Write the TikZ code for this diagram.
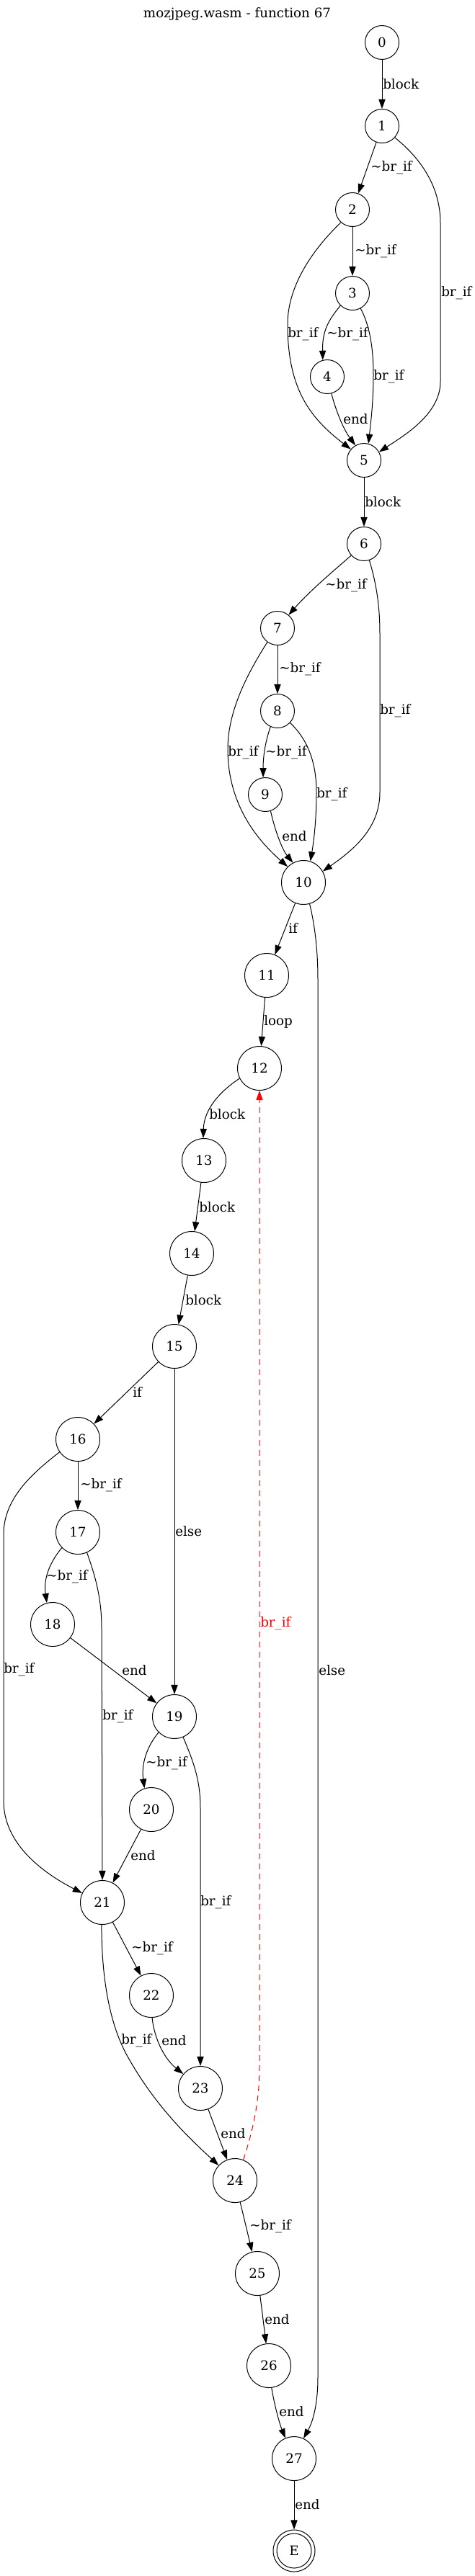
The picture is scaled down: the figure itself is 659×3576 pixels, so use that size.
\documentclass[tikz,border=0pt]{standalone}
\usepackage{fontspec}
\setmainfont{DejaVu Serif}
\usetikzlibrary{arrows.meta}
\newcommand\gvfont{\fontsize{13.7}{16}\selectfont}
\begin{document}
\begin{tikzpicture}[x=0.75pt,y=-0.75pt,
  nd/.style={circle,draw,line width=0.75pt,inner sep=0pt,minimum size=35.25pt,font=\gvfont},
  ndd/.style={nd,minimum size=45.75pt},
  ed/.style={line width=0.75pt,-{Triangle[length=9.8pt,width=6.9pt]}},
  backed/.style={ed,red,dash pattern=on 6pt off 4.5pt},
  lbl/.style={anchor=west,inner sep=0pt,font=\gvfont},
]
\useasboundingbox (0,0) rectangle (659,3576);
\node[font=\gvfont] (title) at (329,20) {mozjpeg.wasm - function 67};
% nodes
\node[nd] (n0) at (530,59) {0};
\node[nd] (n1) at (530,175) {1};
\node[nd] (n2) at (489,291) {2};
\node[nd] (n3) at (489,407) {3};
\node[nd] (n4) at (454,523) {4};
\node[nd] (n5) at (505,639) {5};
\node[nd] (n6) at (505,755) {6};
\node[nd] (n7) at (385,872) {7};
\node[nd] (n8) at (385,987) {8};
\node[nd] (n9) at (368,1103) {9};
\node[ndd] (n10) at (421,1225) {10};
\node[ndd] (n11) at (370,1354) {11};
\node[ndd] (n12) at (360,1483) {12};
\node[ndd] (n13) at (283,1611) {13};
\node[ndd] (n14) at (266,1740) {14};
\node[ndd] (n15) at (242,1869) {15};
\node[ndd] (n16) at (108,1998) {16};
\node[ndd] (n17) at (108,2127) {17};
\node[ndd] (n18) at (73,2255) {18};
\node[ndd] (n19) at (242,2383) {19};
\node[ndd] (n20) at (210,2512) {20};
\node[ndd] (n21) at (142,2641) {21};
\node[ndd] (n22) at (210,2770) {22};
\node[ndd] (n23) at (278,2899) {23};
\node[ndd] (n24) at (326,3027) {24};
\node[ndd] (n25) at (357,3156) {25};
\node[ndd] (n26) at (373,3284) {26};
\node[ndd] (n27) at (408,3413) {27};
\node[nd,minimum size=43.5pt] (E) at (408,3541) {E};
\draw[line width=0.75pt] (E.center) circle[radius=18pt];
% edges
\draw[ed] (n0) -- (n1);
\node[lbl] (l0) at (531,117) {block};
\draw[ed] (n1) -- (n2);
\node[lbl] (l1) at (514,233) {\textasciitilde br\_if};
\draw[ed] (n1.-42) .. controls (590,225) and (611,265) .. (611,310) -- (611,530) .. controls (611,575) and (560,605) .. (n5.29);
\node[lbl] (l2) at (612,407) {br\_if};
\draw[ed] (n2) -- (n3);
\node[lbl] (l3) at (492,349) {\textasciitilde br\_if};
\draw[ed] (n2.-132) .. controls (430,350) and (399,400) .. (399,450) .. controls (399,540) and (430,580) .. (n5.140);
\node[lbl] (l4) at (399,464) {br\_if};
\draw[ed] (n3.-134) .. controls (455,445) and (447,460) .. (n4.105);
\node[lbl] (l5) at (453,464) {\textasciitilde br\_if};
\draw[ed] (n3.-62) .. controls (512,450) and (518,480) .. (518,520) .. controls (518,560) and (514,590) .. (n5.75);
\node[lbl] (l6) at (518,523) {br\_if};
\draw[ed] (n4.-76) .. controls (466,570) and (476,595) .. (n5.120);
\node[lbl] (l7) at (476,582) {end};
\draw[ed] (n5) -- (n6);
\node[lbl] (l8) at (506,697) {block};
\draw[ed] (n6.-138) .. controls (460,795) and (430,820) .. (n7.50);
\node[lbl] (l9) at (451,813) {\textasciitilde br\_if};
\draw[ed] (n6.-72) .. controls (522,810) and (527,840) .. (527,880) -- (527,1100) .. controls (527,1150) and (490,1180) .. (n10.30);
\node[lbl] (l10) at (527,987) {br\_if};
\draw[ed] (n7) -- (n8);
\node[lbl] (l11) at (387,929) {\textasciitilde br\_if};
\draw[ed] (n7.-126) .. controls (340,940) and (316,990) .. (316,1040) .. controls (316,1110) and (350,1160) .. (n10.135);
\node[lbl] (l12) at (316,1045) {br\_if};
\draw[ed] (n8.-114) .. controls (368,1030) and (365,1050) .. (n9.97);
\node[lbl] (l13) at (368,1045) {\textasciitilde br\_if};
\draw[ed] (n8.-43) .. controls (425,1025) and (439,1055) .. (439,1100) .. controls (439,1140) and (435,1170) .. (n10.72);
\node[lbl] (l14) at (439,1103) {br\_if};
\draw[ed] (n9.-72) .. controls (382,1155) and (392,1180) .. (n10.118);
\node[lbl] (l15) at (391,1161) {end};
\draw[ed] (n10) -- (n11);
\node[lbl] (l16) at (400,1289) {if};
\draw[ed] (n10.-74) .. controls (437,1285) and (441,1320) .. (441,1360) -- (441,3300) .. controls (441,3335) and (435,3360) .. (n27.65);
\node[lbl] (l17) at (442,2319) {else};
\draw[ed] (n11) -- (n12);
\node[lbl] (l18) at (366,1418) {loop};
\draw[ed] (n12.-153) .. controls (305,1515) and (283,1540) .. (n13.92);
\node[lbl] (l19) at (290,1547) {block};
\draw[ed] (n13) -- (n14);
\node[lbl] (l20) at (276,1676) {block};
\draw[ed] (n14) -- (n15);
\node[lbl] (l21) at (257,1805) {block};
\draw[ed] (n15) -- (n16);
\node[lbl] (l22) at (184,1933) {if};
\draw[ed] (n15) -- (n19);
\node[lbl] (l23) at (243,2126) {else};
\draw[ed] (n16) -- (n17);
\node[lbl] (l24) at (111,2062) {\textasciitilde br\_if};
\draw[ed] (n16.-145) .. controls (45,2045) and (5,2080) .. (5,2130) -- (5,2500) .. controls (5,2560) and (60,2600) .. (n21.155);
\node[lbl] (l25) at (5,2318) {br\_if};
\draw[ed] (n17.-136) .. controls (70,2168) and (60,2190) .. (n18.105);
\node[lbl] (l26) at (64,2189) {\textasciitilde br\_if};
\draw[ed] (n17.-66) .. controls (133,2190) and (141,2220) .. (141,2260) -- (n21.north);
\node[lbl] (l27) at (142,2383) {br\_if};
\draw[ed] (n18) -- (n19);
\node[lbl] (l28) at (169,2319) {end};
\draw[ed] (n19.-135) .. controls (203,2425) and (196,2450) .. (n20.108);
\node[lbl] (l29) at (202,2448) {\textasciitilde br\_if};
\draw[ed] (n19.-67) .. controls (268,2445) and (278,2470) .. (278,2510) -- (n23.north);
\node[lbl] (l30) at (278,2641) {br\_if};
\draw[ed] (n20) -- (n21);
\node[lbl] (l31) at (181,2576) {end};
\draw[ed] (n21) -- (n22);
\node[lbl] (l32) at (182,2705) {\textasciitilde br\_if};
\draw[ed] (n21.-92) .. controls (141,2740) and (150,2810) .. (180,2860) .. controls (220,2930) and (270,2975) .. (n24.137);
\node[lbl] (l33) at (168,2833) {br\_if};
\draw[ed] (n22.-88) .. controls (214,2830) and (228,2858) .. (n23.140);
\node[lbl] (l34) at (224,2833) {end};
\draw[ed] (n23) -- (n24);
\node[lbl] (l35) at (306,2962) {end};
\draw[backed] (n24.68) .. controls (350,2960) and (360,2920) .. (360,2870) -- (n12.south);
\node[lbl,text=red] (l36) at (361,2254) {br\_if};
\draw[ed] (n24) -- (n25);
\node[lbl] (l37) at (346,3091) {\textasciitilde br\_if};
\draw[ed] (n25) -- (n26);
\node[lbl] (l38) at (367,3220) {end};
\draw[ed] (n26.-83) .. controls (381,3340) and (388,3365) .. (n27.113);
\node[lbl] (l39) at (387,3348) {end};
\draw[ed] (n27) -- (E);
\node[lbl] (l40) at (409,3477) {end};
\end{tikzpicture}
\end{document}
